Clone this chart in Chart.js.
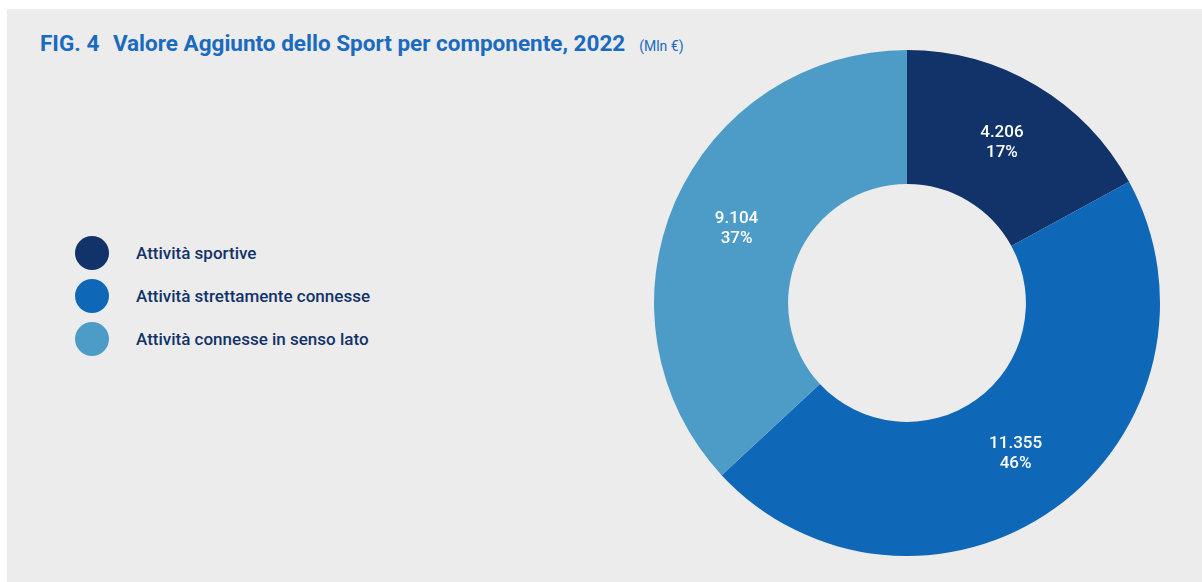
<!DOCTYPE html>
<html lang="it">
<head>
<meta charset="utf-8">
<title>FIG. 4 Valore Aggiunto dello Sport per componente, 2022</title>
<script src="https://cdn.jsdelivr.net/npm/chart.js@4.4.1/dist/chart.umd.min.js"></script>
<style>
  body { margin: 0; background: #ffffff; font-family: Roboto, "Noto Sans", sans-serif; }
  #panel {
    position: absolute; left: 7px; top: 9px; width: 1195px; height: 573px;
    background: #ececec; overflow: hidden;
  }
  #title {
    position: absolute; left: 33px; top: 21px; white-space: nowrap;
    color: #1a6bbf; font-weight: 700; font-size: 22.5px;
  }
  #title .fig { margin-right: 8px; }
  #title .unit { font-weight: 400; font-size: 14px; margin-left: 14px; }
  #legend { position: absolute; left: 68px; top: 222px; }
  .item { display: flex; align-items: center; height: 43px; }
  .dot { width: 34px; height: 34px; border-radius: 50%; margin-right: 27px; }
  .item span { color: #12336a; font-size: 17px; font-weight: 500; }
  #chartBox { position: absolute; left: 647px; top: 41px; width: 506px; height: 506px; }
</style>
</head>
<body>
<div id="panel">
  <div id="title"><span class="fig">FIG. 4</span> Valore Aggiunto dello Sport per componente, 2022<span class="unit">(Mln €)</span></div>
  <div id="legend"></div>
  <div id="chartBox"><canvas id="donut"></canvas></div>
</div>
<script>
// ---- data ----
const categories = ['Attività sportive', 'Attività strettamente connesse', 'Attività connesse in senso lato'];
const values     = [4206, 11355, 9104];   // Mln €
const colors     = ['#12336a', '#0f67b7', '#4d9cc8'];

const total = values.reduce((a, b) => a + b, 0);

// Italian thousands separator: 4206 -> "4.206"
function fmt(v) {
  return String(v).replace(/\B(?=(\d{3})+(?!\d))/g, '.');
}

// ---- legend (built from the same arrays) ----
const legend = document.getElementById('legend');
categories.forEach((c, i) => {
  const row = document.createElement('div');
  row.className = 'item';
  row.innerHTML = '<div class="dot" style="background:' + colors[i] + '"></div><span>' + c + '</span>';
  legend.appendChild(row);
});

// ---- value + percent labels in the middle of each slice ----
const sliceLabels = {
  id: 'sliceLabels',
  afterDatasetsDraw(chart) {
    const ctx = chart.ctx;
    const meta = chart.getDatasetMeta(0);
    ctx.save();
    ctx.fillStyle = '#ffffff';
    ctx.font = '500 17px Roboto, "Noto Sans", sans-serif';
    ctx.textAlign = 'center';
    ctx.textBaseline = 'middle';
    meta.data.forEach((arc, i) => {
      const p = arc.tooltipPosition();
      const pct = Math.round(values[i] / total * 100) + '%';
      ctx.fillText(fmt(values[i]), p.x, p.y - 10);
      ctx.fillText(pct, p.x, p.y + 10);
    });
    ctx.restore();
  }
};

new Chart(document.getElementById('donut'), {
  type: 'doughnut',
  data: {
    labels: categories,
    datasets: [{
      data: values,
      backgroundColor: colors,
      borderWidth: 0,
      hoverOffset: 0
    }]
  },
  options: {
    responsive: true,
    maintainAspectRatio: false,
    animation: false,
    cutout: '47%',
    plugins: {
      legend: { display: false },
      tooltip: { enabled: false }
    }
  },
  plugins: [sliceLabels]
});
</script>
</body>
</html>
